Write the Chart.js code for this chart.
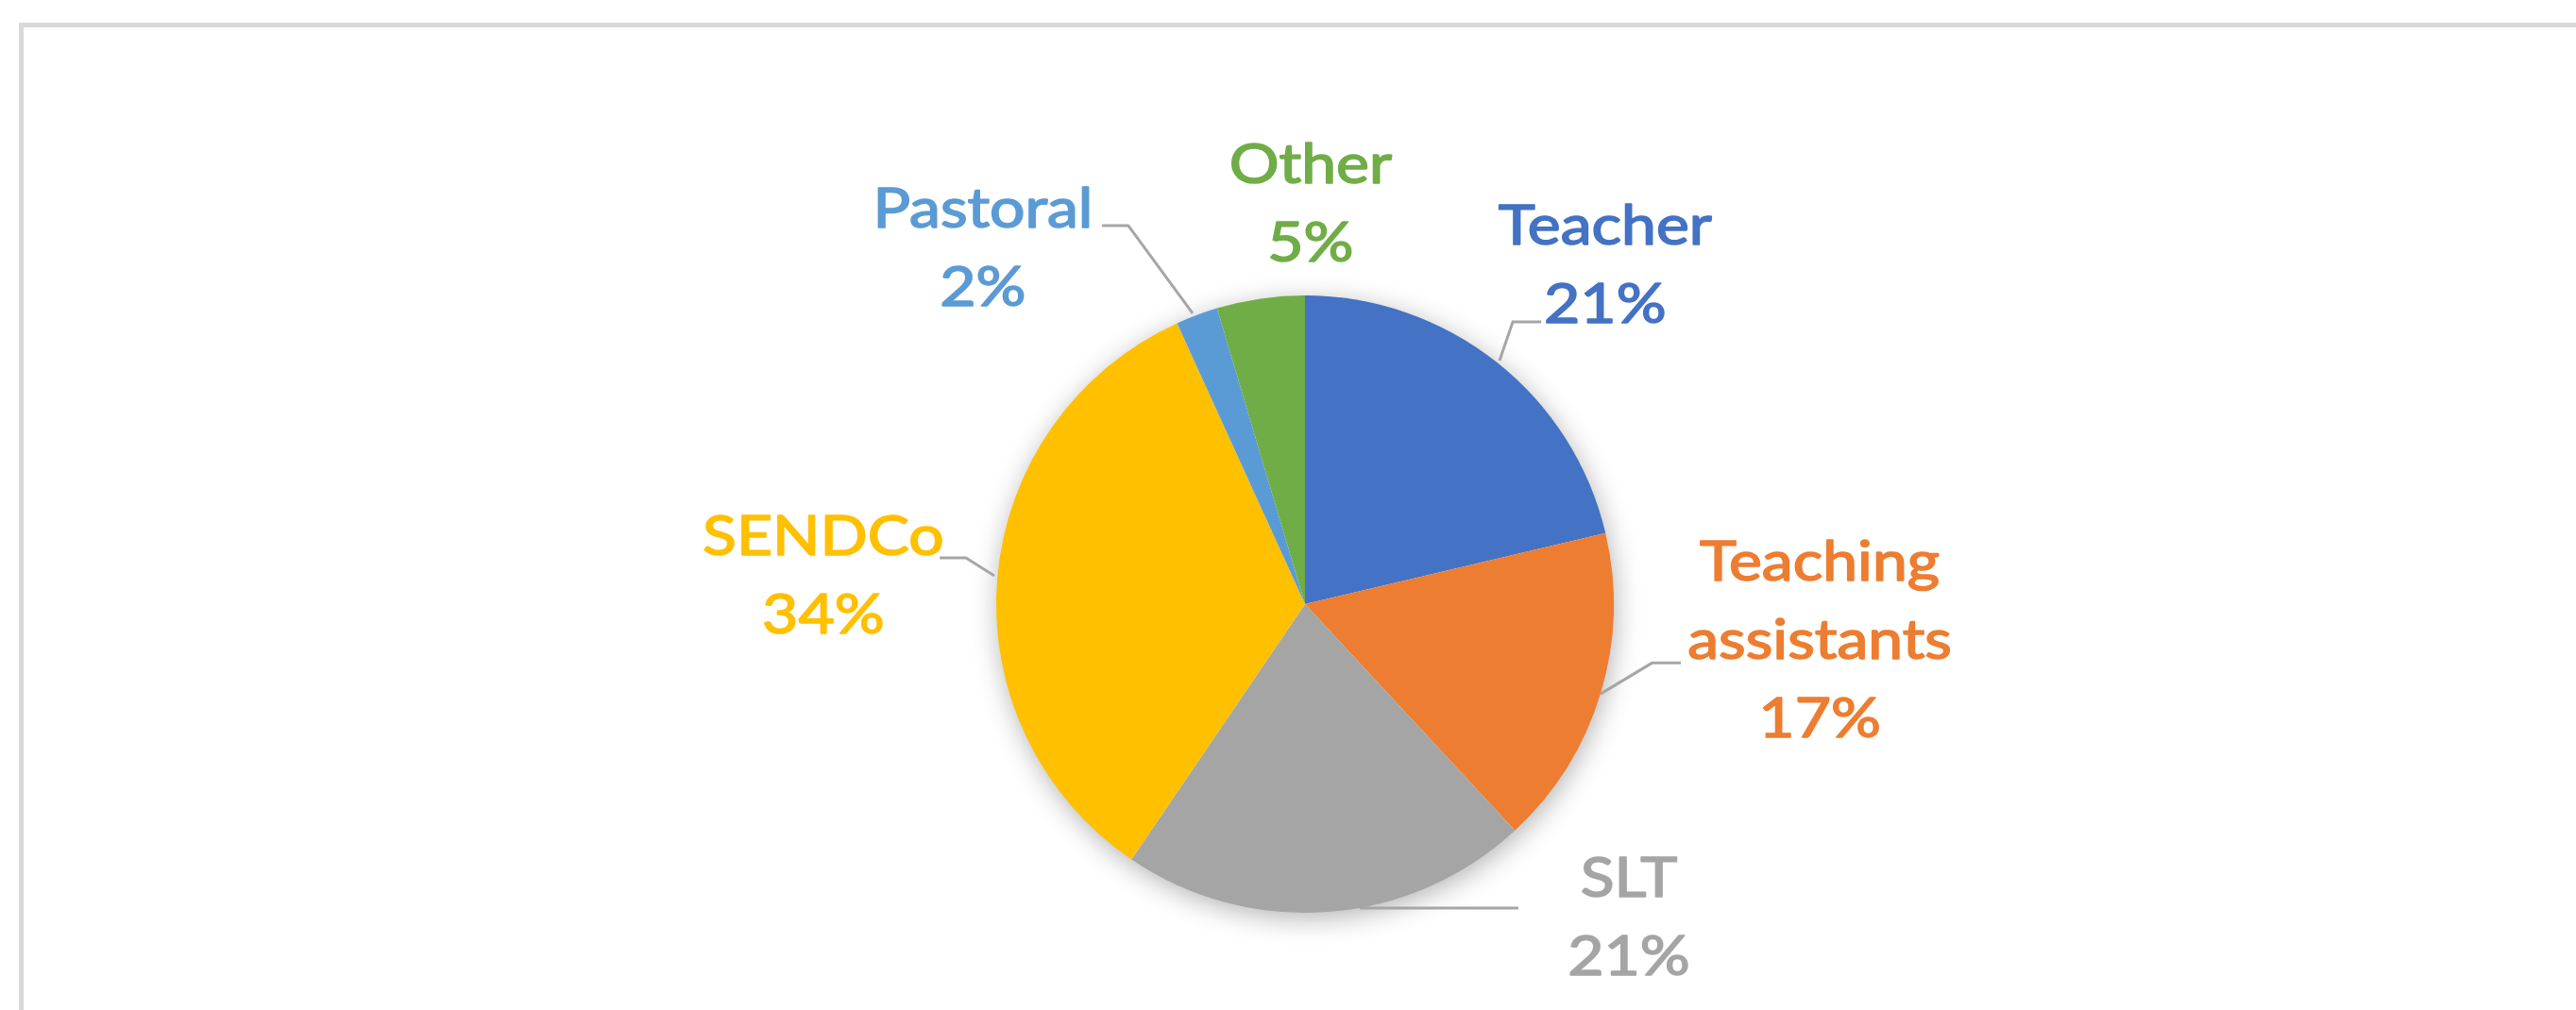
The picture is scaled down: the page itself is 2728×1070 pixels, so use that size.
<!DOCTYPE html>
<html><head><meta charset="utf-8">
<script src="https://cdn.jsdelivr.net/npm/chart.js@4.4.0/dist/chart.umd.min.js"></script>
<style>
html,body{margin:0;padding:0;background:#fff;width:2728px;height:1070px;overflow:hidden;}
#frame{position:absolute;left:20px;top:24px;width:2760px;height:1100px;border-left:5px solid #d9d9d9;border-top:5px solid #d9d9d9;box-sizing:border-box}
canvas{position:absolute;left:0;top:0}
</style></head><body>
<div id="frame"></div>
<canvas id="c" width="2728" height="1070"></canvas>
<script>
// ---- data ----
const categories = ['Teacher', 'Teaching assistants', 'SLT', 'SENDCo', 'Pastoral', 'Other'];
const labelLines = [['Teacher'], ['Teaching', 'assistants'], ['SLT'], ['SENDCo'], ['Pastoral'], ['Other']];
const values = [21.3, 16.8, 21.4, 33.7, 2.2, 4.6];
const colors = ['#4472C4', '#ED7D31', '#A5A5A5', '#FFC000', '#5B9BD5', '#70AD47'];

// label placement relative to pie centre, in units of the pie radius
const labelPlacement = [
  { tx: 0.972, ty: -1.165, leader: [[0.765, -0.914], [0.673, -0.914], [0.630, -0.789]] },
  { tx: 1.667, ty: -0.076, leader: [[1.217, 0.190], [1.125, 0.190], [0.957, 0.291]] },
  { tx: 1.049, ty: 0.948, leader: [[0.691, 0.985], [0.177, 0.985]] },
  { tx: -1.560, ty: -0.159, leader: [[-1.183, -0.150], [-1.098, -0.150], [-1.006, -0.092]] },
  { tx: -1.043, ty: -1.220, leader: [[-0.657, -1.226], [-0.572, -1.226], [-0.364, -0.942]] },
  { tx: 0.018, ty: -1.364, leader: null }
];

const FONT = '58px Lato, "Open Sans", sans-serif';
const LINE_H = 83;

const pieLabels = {
  id: 'pieLabels',
  beforeDatasetsDraw(chart) {
    const arc = chart.getDatasetMeta(0).data[0];
    if (!arc) return;
    const ctx = chart.ctx;
    ctx.save();
    ctx.beginPath();
    ctx.arc(arc.x, arc.y, arc.outerRadius - 2, 0, Math.PI * 2);
    ctx.fillStyle = '#ffffff';
    ctx.shadowColor = 'rgba(0,0,0,0.33)';
    ctx.shadowBlur = 30;
    ctx.shadowOffsetX = 2;
    ctx.shadowOffsetY = 6;
    ctx.fill();
    ctx.restore();
  },
  afterDatasetsDraw(chart) {
    const meta = chart.getDatasetMeta(0);
    const arc = meta.data[0];
    if (!arc) return;
    const cx = arc.x, cy = arc.y, R = arc.outerRadius;
    const ctx = chart.ctx;
    const total = values.reduce((a, b) => a + b, 0);
    ctx.save();
    ctx.font = FONT;
    const sx = 226 / ctx.measureText('Teacher').width;
    labelPlacement.forEach((p, i) => {
      if (p.leader) {
        ctx.beginPath();
        p.leader.forEach((pt, k) => {
          const x = cx + pt[0] * R, y = cy + pt[1] * R;
          if (k === 0) ctx.moveTo(x, y); else ctx.lineTo(x, y);
        });
        ctx.strokeStyle = '#A6A6A6';
        ctx.lineWidth = 3;
        ctx.stroke();
      }
      const lines = labelLines[i].concat([Math.round(values[i] / total * 100) + '%']);
      const x = cx + p.tx * R;
      const y0 = cy + p.ty * R;
      ctx.fillStyle = colors[i];
      ctx.strokeStyle = colors[i];
      ctx.lineWidth = 1.6;
      ctx.lineJoin = 'round';
      ctx.textAlign = 'center';
      ctx.textBaseline = 'alphabetic';
      lines.forEach((t, k) => {
        ctx.save();
        ctx.translate(x, y0 + k * LINE_H);
        ctx.scale(sx, 1);
        ctx.fillText(t, 0, 0);
        ctx.strokeText(t, 0, 0);
        ctx.restore();
      });
    });
    ctx.restore();
  }
};

new Chart(document.getElementById('c'), {
  type: 'pie',
  data: {
    labels: categories,
    datasets: [{ data: values, backgroundColor: colors, borderWidth: 0 }]
  },
  options: {
    responsive: false,
    animation: false,
    layout: { padding: { left: 1055, right: 1019, top: 313, bottom: 103 } },
    plugins: { legend: { display: false }, tooltip: { enabled: false } }
  },
  plugins: [pieLabels]
});
</script>
</body></html>
